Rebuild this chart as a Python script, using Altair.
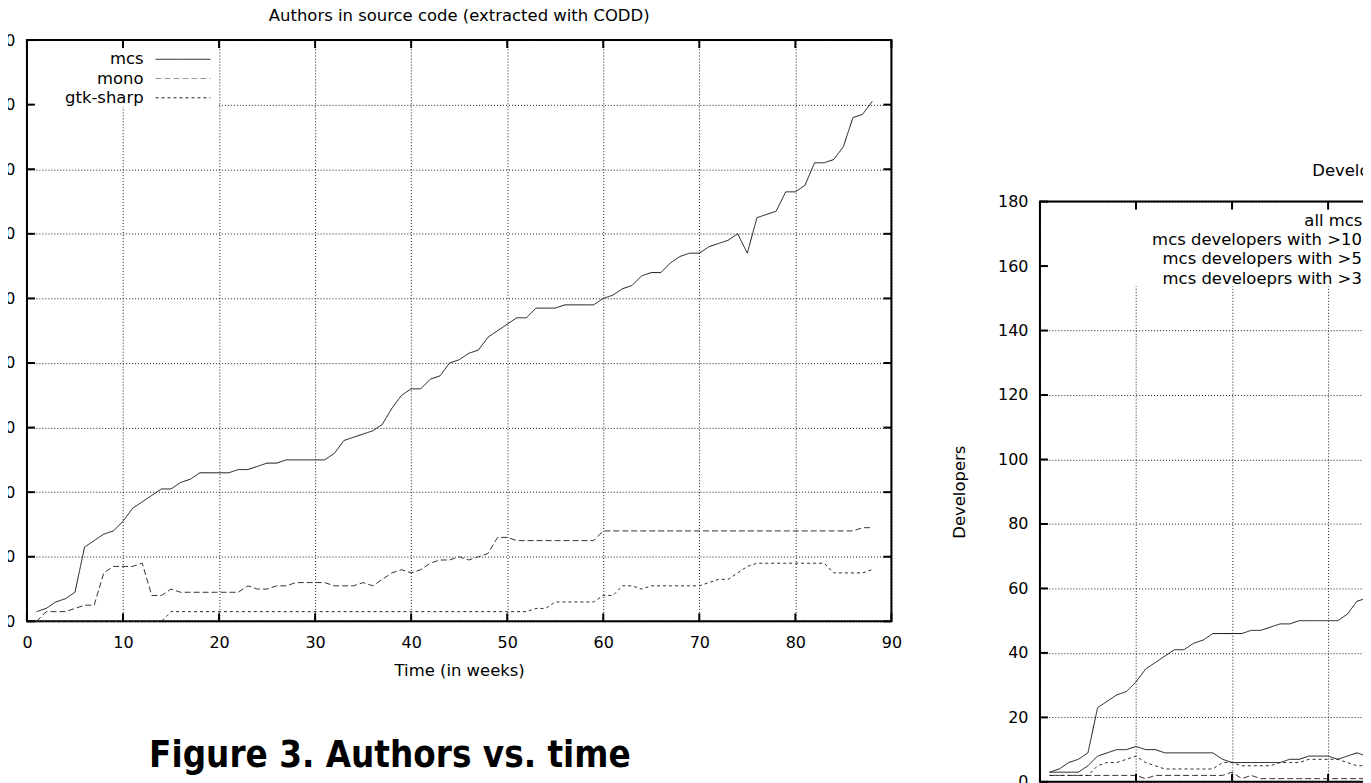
import altair as alt
import pandas as pd

FONT = "DejaVu Sans"

# ---------------- left panel: authors in source code ----------------
weeks = list(range(1, 89))
mcs = [3, 4, 6, 7, 9, 23, 25, 27, 28, 31,
       35, 37, 39, 41, 41, 43, 44, 46, 46, 46,
       46, 47, 47, 48, 49, 49, 50, 50, 50, 50,
       50, 52, 56, 57, 58, 59, 61, 66, 70, 72,
       72, 75, 76, 80, 81, 83, 84, 88, 90, 92,
       94, 94, 97, 97, 97, 98, 98, 98, 98, 100,
       101, 103, 104, 107, 108, 108, 111, 113, 114, 114,
       116, 117, 118, 120, 114, 125, 126, 127, 133, 133,
       135, 142, 142, 143, 147, 156, 157, 161]
mono = [0, 3, 3, 3, 4, 5, 5, 15, 17, 17,
        17, 18, 8, 8, 10, 9, 9, 9, 9, 9,
        9, 9, 11, 10, 10, 11, 11, 12, 12, 12,
        12, 11, 11, 11, 12, 11, 13, 15, 16, 15,
        16, 18, 19, 19, 20, 19, 20, 21, 26, 26,
        25, 25, 25, 25, 25, 25, 25, 25, 25, 28,
        28, 28, 28, 28, 28, 28, 28, 28, 28, 28,
        28, 28, 28, 28, 28, 28, 28, 28, 28, 28,
        28, 28, 28, 28, 28, 28, 29, 29]
gtk_sharp = [0, 0, 0, 0, 0, 0, 0, 0, 0, 0,
             0, 0, 0, 0, 3, 3, 3, 3, 3, 3,
             3, 3, 3, 3, 3, 3, 3, 3, 3, 3,
             3, 3, 3, 3, 3, 3, 3, 3, 3, 3,
             3, 3, 3, 3, 3, 3, 3, 3, 3, 3,
             3, 3, 4, 4, 6, 6, 6, 6, 6, 8,
             8, 11, 11, 10, 11, 11, 11, 11, 11, 11,
             12, 13, 13, 15, 17, 18, 18, 18, 18, 18,
             18, 18, 18, 15, 15, 15, 15, 16]
left_names = ["mcs", "mono", "gtk-sharp"]

# ---------------- right panel: developers (visible part only) ----------------
dev_weeks = list(range(1, 35))
dev_all = [3, 4, 6, 7, 9, 23, 25, 27, 28, 31,
           35, 37, 39, 41, 41, 43, 44, 46, 46, 46,
           46, 47, 47, 48, 49, 49, 50, 50, 50, 50,
           50, 52, 56, 57]
dev_gt10 = [2, 2, 2, 2, 2, 2, 2, 2, 2, 2,
            1, 2, 2, 2, 2, 2, 2, 2, 2, 3,
            1, 2, 1, 1, 1, 1, 1, 1, 1, 1,
            1, 1, 1, 1]
dev_gt5 = [2, 2, 2, 2, 2, 5, 6, 6, 7, 8,
           6, 5, 4, 4, 4, 4, 4, 4, 6, 6,
           5, 5, 5, 5, 6, 6, 6, 7, 7, 7,
           7, 6, 5, 5]
dev_gt3 = [3, 3, 3, 3, 5, 8, 9, 10, 10, 11,
           10, 10, 9, 9, 9, 9, 9, 9, 7, 6,
           6, 6, 6, 6, 6, 7, 7, 8, 8, 8,
           7, 8, 9, 8]
right_names = ["all mcs modules",
               "mcs developers with >10 commits",
               "mcs developers with >5 commits",
               "mcs develoeprs with >3 commits"]

x_ticks = [0, 10, 20, 30, 40, 50, 60, 70, 80, 90]
y_ticks = [0, 20, 40, 60, 80, 100, 120, 140, 160, 180]

left_title = "Authors in source code (extracted with CODD)"
right_title = "Developers in CVS (extracted with CVSAnalY)"
caption_text = "Figure 3. Authors vs. time"

# ---------------- styles ----------------
left_colors = ["#111111", "#333333", "#2a2a2a"]
left_key_colors = ["#111111", "#9a9a9a", "#222222"]
left_dashes = [[1, 0], [6, 3], [3, 3]]
right_colors = ["#111111", "#555555", "#333333", "#666666"]
right_dashes = [[1, 0], [8, 3], [4, 4], [1.5, 2.5]]

W = 867
H_LEFT = 583
H_RIGHT = 582

left_df = pd.DataFrame({
    "week": weeks * 3,
    "value": mcs + mono + gtk_sharp,
    "series": [n for n in left_names for _ in weeks],
})
right_df = pd.DataFrame({
    "week": dev_weeks * 4,
    "value": dev_all + dev_gt10 + dev_gt5 + dev_gt3,
    "series": [n for n in right_names for _ in dev_weeks],
})

ONE = pd.DataFrame({"k": [0]})


def anchor(x, y):
    """Invisible 1px layout anchor (fixes the panel's bounding box)."""
    return alt.Chart(ONE).mark_rect(color="white", opacity=0).encode(
        x=alt.value(x), x2=alt.value(x + 1), y=alt.value(y), y2=alt.value(y + 1))


def panel(df, names, colors, key_colors, dashes, title, title_dx, title_offset,
          height, ytitle, box, key_x, key_line, extras):
    xs = alt.Scale(domain=[0, 90], nice=False, zero=False)
    ys = alt.Scale(domain=[0, 180], nice=False, zero=False)
    xaxis = alt.Axis(values=x_ticks, title="Time (in weeks)", format="d")
    yaxis = alt.Axis(values=y_ticks, title=ytitle, format="d")
    layers = []
    # opaque key area (hides the grid under the key, as gnuplot does)
    layers.append(alt.Chart(ONE).mark_rect(color="white").encode(
        x=alt.value(box[0]), x2=alt.value(box[1]),
        y=alt.value(box[2]), y2=alt.value(box[3])))
    # data lines
    layers.append(alt.Chart(df).mark_line(strokeWidth=1).encode(
        x=alt.X("week:Q", scale=xs, axis=xaxis),
        y=alt.Y("value:Q", scale=ys, axis=yaxis),
        color=alt.Color("series:N", scale=alt.Scale(domain=names, range=colors), legend=None),
        strokeDash=alt.StrokeDash("series:N", scale=alt.Scale(domain=names, range=dashes), legend=None),
    ))
    # inward ticks on all four sides (gnuplot style)
    ytk = pd.DataFrame({"value": y_ticks})
    xtk = pd.DataFrame({"week": x_ticks})
    tk = dict(color="black", strokeWidth=2)
    layers.append(alt.Chart(ytk).mark_rule(**tk).encode(
        y=alt.Y("value:Q", scale=ys, axis=yaxis), x=alt.value(0), x2=alt.value(8)))
    layers.append(alt.Chart(ytk).mark_rule(**tk).encode(
        y=alt.Y("value:Q", scale=ys, axis=yaxis), x=alt.value(W), x2=alt.value(W - 8)))
    layers.append(alt.Chart(xtk).mark_rule(**tk).encode(
        x=alt.X("week:Q", scale=xs, axis=xaxis), y=alt.value(0), y2=alt.value(8)))
    layers.append(alt.Chart(xtk).mark_rule(**tk).encode(
        x=alt.X("week:Q", scale=xs, axis=xaxis), y=alt.value(height), y2=alt.value(height - 8)))
    # key
    for i, (name, c, d) in enumerate(zip(names, key_colors, dashes)):
        yy = 19.3 + 19.3 * i
        layers.append(alt.Chart(pd.DataFrame({"series": [name]})).mark_text(
            align="right", baseline="middle", font=FONT, fontSize=16.5, color="black"
        ).encode(x=alt.value(key_x), y=alt.value(yy), text="series:N"))
        layers.append(alt.Chart(ONE).mark_rule(color=c, strokeDash=d, strokeWidth=1).encode(
            x=alt.value(key_line[0]), x2=alt.value(key_line[1]), y=alt.value(yy)))
    layers.extend(extras)
    return alt.layer(*layers).properties(
        width=W, height=height,
        title=alt.TitleParams(text=title, dx=title_dx, offset=title_offset, frame="group",
                              font=FONT, fontSize=16.5, fontWeight="normal", color="black"),
        view=alt.ViewBackground(stroke="black", strokeWidth=2),
    )


caption = alt.Chart(pd.DataFrame({"caption": [caption_text]})).mark_text(
    font="DejaVu Sans Condensed", fontWeight="bold", fontSize=36.5, color="black",
    align="center", baseline="alphabetic"
).encode(x=alt.value(364), y=alt.value(729), text="caption:N")

left = panel(left_df, left_names, left_colors, left_key_colors, left_dashes,
             left_title, 0, 8, H_LEFT, None,
             box=[1.5, 192, 1.5, 67], key_x=117, key_line=[129, 184],
             extras=[caption, anchor(-60, 2), anchor(W + 30, 2)])

right = panel(right_df, right_names, right_colors, right_colors, right_dashes,
              right_title, 27, 14, H_RIGHT, "Developers",
              box=[1.5, W - 1.5, 1.5, 85], key_x=399, key_line=[411, 466],
              extras=[anchor(-100, 2), anchor(W + 20, H_RIGHT + 60)])

spacer = alt.Chart(ONE).mark_point(opacity=0).properties(
    width=1, height=121, view=alt.ViewBackground(stroke="transparent"))

# Page window is 1371x783: the page is cropped like the scanned reference.
chart = alt.hconcat(
    left, alt.vconcat(spacer, right, spacing=0), spacing=16
).properties(
    padding={"left": -42, "top": -3, "right": -565, "bottom": -55}
).configure_axis(
    labelFont=FONT, labelFontSize=16, labelColor="black",
    titleFont=FONT, titleFontSize=16.5, titleFontWeight="normal", titleColor="black",
    grid=True, gridColor="black", gridDash=[1, 2], gridWidth=1, gridOpacity=0.9,
    ticks=False, tickSize=0, domain=False, labelFlush=False, labelOverlap=False,
).configure_axisX(
    labelPadding=13, titlePadding=12,
).configure_axisY(
    labelPadding=12, titlePadding=30,
)

chart.save("out.html", embed_options={"renderer": "svg", "actions": False})
